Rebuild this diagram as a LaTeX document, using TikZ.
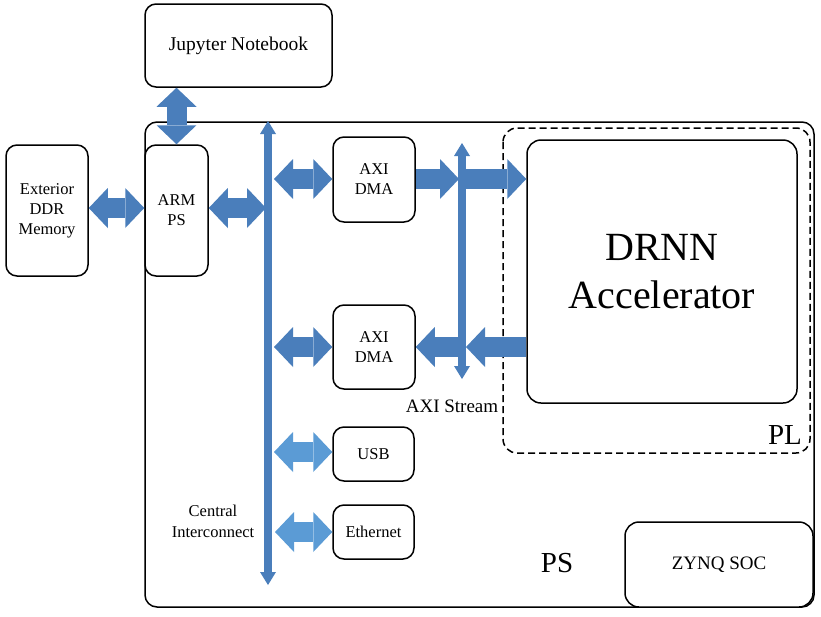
\documentclass[tikz,border=0pt]{standalone}
\usepackage{fontspec}
\setmainfont{Liberation Serif}
\usetikzlibrary{arrows.meta,calc}
\definecolor{ab}{HTML}{4A7EBB}
\definecolor{lb}{HTML}{5B9BD5}
\tikzset{
  box/.style={draw, line width=1.5pt, rounded corners=11pt, fill=white, align=center,
    font=\fontsize{16.5}{20}\selectfont, inner sep=0pt},
  bigtip/.tip={Triangle[width=40pt,length=19pt,line width=0pt]},
  bustip/.tip={Triangle[width=16pt,length=13pt,line width=0pt]},
  dbl/.style={line width=20pt, draw=ab, fill=ab, bigtip-bigtip},
  sgl/.style={line width=20pt, draw=ab, fill=ab, -bigtip},
  ldbl/.style={line width=20pt, draw=lb, fill=lb, bigtip-bigtip},
  bus/.style={line width=8pt, draw=ab, fill=ab, bustip-bustip},
  lbl/.style={align=center, inner sep=0pt}
}
\begin{document}
\begin{tikzpicture}[x=1pt,y=-1pt]
\useasboundingbox (0,0) rectangle (821,616);
% outer PS region
\draw[line width=1.5pt, rounded corners=12pt] (145,122) rectangle (814,607);
% PL dashed region
\draw[line width=1.5pt, dash pattern=on 7pt off 4pt, rounded corners=14pt] (503,128) rectangle (810,453);

% boxes
\node[box, minimum width=187pt, minimum height=83pt, font=\fontsize{19.5}{22}\selectfont] (jup) at (238.5,45.5) {Jupyter Notebook};
\node[box, minimum width=82pt, minimum height=131pt] (ddr) at (47,210.5) {Exterior\\DDR\\Memory};
\node[box, minimum width=63pt, minimum height=131pt] (arm) at (176.5,210.5) {ARM\\PS};
\node[box, minimum width=82pt, minimum height=85pt] (dma1) at (374,179.5) {AXI\\DMA};
\node[box, minimum width=82pt, minimum height=84pt] (dma2) at (374,347) {AXI\\DMA};
\node[box, minimum width=81pt, minimum height=54pt] (usb) at (373.5,454) {USB};
\node[box, minimum width=81pt, minimum height=54pt] (eth) at (373.5,532) {Ethernet};
\node[box, minimum width=270pt, minimum height=263pt, rounded corners=14pt, font=\fontsize{40}{48}\selectfont] (acc) at (662,271.5) {DRNN\\Accelerator};
\node[box, minimum width=188pt, minimum height=85pt, rounded corners=14pt, font=\fontsize{19}{22}\selectfont] (zynq) at (719,564.5) {ZYNQ SOC};

% bus coordinates
\coordinate (bt) at (268,121);
\coordinate (bb) at (268,585);
\coordinate (st) at (462,143);
\coordinate (sb) at (462,379);
\draw[bus] (bb) -- (bt);
\draw[bus] (sb) -- (st);

% free ends on the buses
\coordinate (barm) at (266,208);
\coordinate (b1) at (274,179);
\coordinate (b2) at (274,347);
\coordinate (b3) at (274,452);
\coordinate (b4) at (275,532);
\coordinate (s1l) at (459,179);
\coordinate (s1r) at (465,179);
\coordinate (s2l) at (459,347);
\coordinate (s2r) at (466,347);

% block arrows
\draw[dbl] (arm.north |- jup.south) -- (arm.north);
\draw[dbl] (ddr.east |- 0,208) -- (arm.west |- 0,208);
\draw[dbl] (arm.east |- 0,208) -- (barm);
\draw[dbl] (b1) -- (dma1.west |- b1);
\draw[dbl] (b2) -- (dma2.west |- b2);
\draw[ldbl] (b3) -- (usb.west |- b3);
\draw[ldbl] (b4) -- (eth.west |- b4);
\draw[sgl] (dma1.east |- s1l) -- (s1l);
\draw[sgl] (s1r) -- (acc.west |- s1r);
\draw[sgl] (acc.west |- s2r) -- (s2r);
\draw[sgl] (s2l) -- (dma2.east |- s2l);

% labels
\node[lbl, font=\fontsize{19}{22}\selectfont] (axis) at (452,406) {AXI Stream};
\node[lbl, font=\fontsize{16.5}{21}\selectfont] (ci) at (213,521) {Central\\Interconnect};
\node[lbl, font=\fontsize{29}{30}\selectfont] (pl) at (785,435) {PL};
\node[lbl, font=\fontsize{29}{30}\selectfont] (ps) at (557,563) {PS};
\end{tikzpicture}
\end{document}
